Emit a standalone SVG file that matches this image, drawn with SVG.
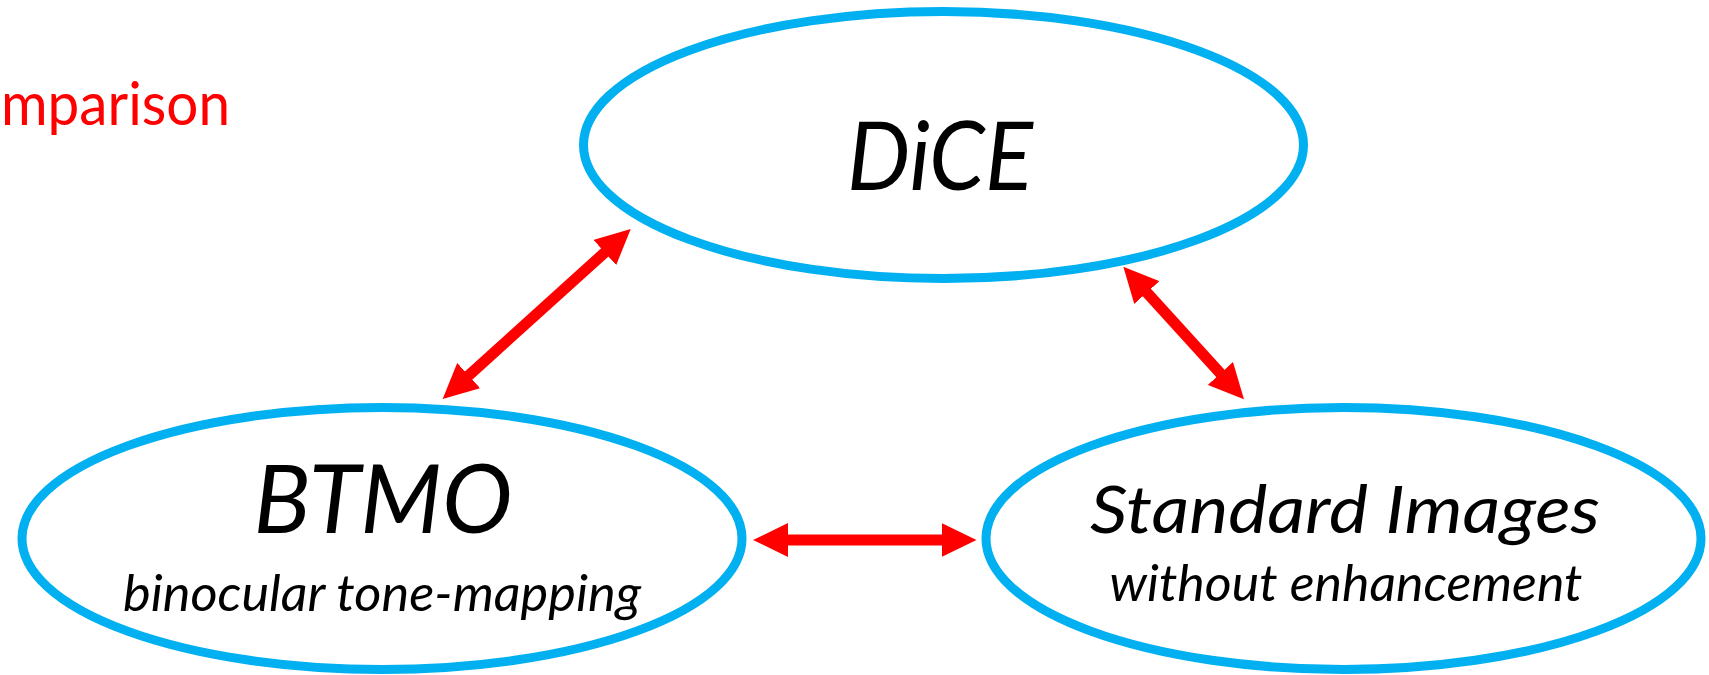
<svg xmlns="http://www.w3.org/2000/svg" width="1709" height="675" viewBox="0 0 1709 675">
<style>
.node ellipse{fill:#FFFFFF;stroke:#00B0F0;stroke-width:9}
.title{font-family:Lato,"Open Sans","Liberation Sans",sans-serif;font-style:italic;font-size:95px;fill:#000000;text-anchor:middle}
.title2{font-family:Lato,"Open Sans","Liberation Sans",sans-serif;font-style:italic;font-size:66px;fill:#000000;text-anchor:middle}
.sub{font-family:Lato,"Open Sans","Liberation Sans",sans-serif;font-style:italic;font-size:50px;fill:#000000;text-anchor:middle}
.red{font-family:Lato,"Open Sans","Liberation Sans",sans-serif;font-size:60px;fill:#FF0000}
.conn line{stroke:#FF0000;stroke-width:11;fill:none;marker-start:url(#ah);marker-end:url(#ah)}
</style>
<defs>
<marker id="ah" markerUnits="userSpaceOnUse" markerWidth="35" markerHeight="34" viewBox="0 0 35 34" refX="15" refY="17" orient="auto-start-reverse">
<path d="M0,0 L35,17 L0,34 z" fill="#FF0000"/>
</marker>
</defs>
<rect width="1709" height="675" fill="#FFFFFF"/>
<text class="red" x="1" y="125" textLength="229" lengthAdjust="spacingAndGlyphs">mparison</text>
<g id="dice" class="node">
<ellipse cx="943.5" cy="145" rx="360" ry="133.5"/>
<text class="title" x="940" y="190" textLength="186" lengthAdjust="spacingAndGlyphs">DiCE</text>
</g>
<g id="btmo" class="node">
<ellipse cx="382" cy="538.5" rx="360" ry="131"/>
<text class="title" x="383" y="533" textLength="259" lengthAdjust="spacingAndGlyphs">BTMO</text>
<text class="sub" x="382" y="611" textLength="518" lengthAdjust="spacingAndGlyphs">binocular tone-mapping</text>
</g>
<g id="standard" class="node">
<ellipse cx="1343.5" cy="538.5" rx="357.5" ry="131"/>
<text class="title2" x="1345" y="533" textLength="510" lengthAdjust="spacingAndGlyphs">Standard Images</text>
<text class="sub" x="1346" y="601" textLength="473" lengthAdjust="spacingAndGlyphs">without enhancement</text>
</g>
<g id="connectors" class="conn">
<line x1="457.5" y1="385.6" x2="615.9" y2="242.4"/>
<line x1="1136.8" y1="281.5" x2="1230.5" y2="384.5"/>
<line x1="773" y1="540" x2="956.5" y2="540"/>
</g>
</svg>
